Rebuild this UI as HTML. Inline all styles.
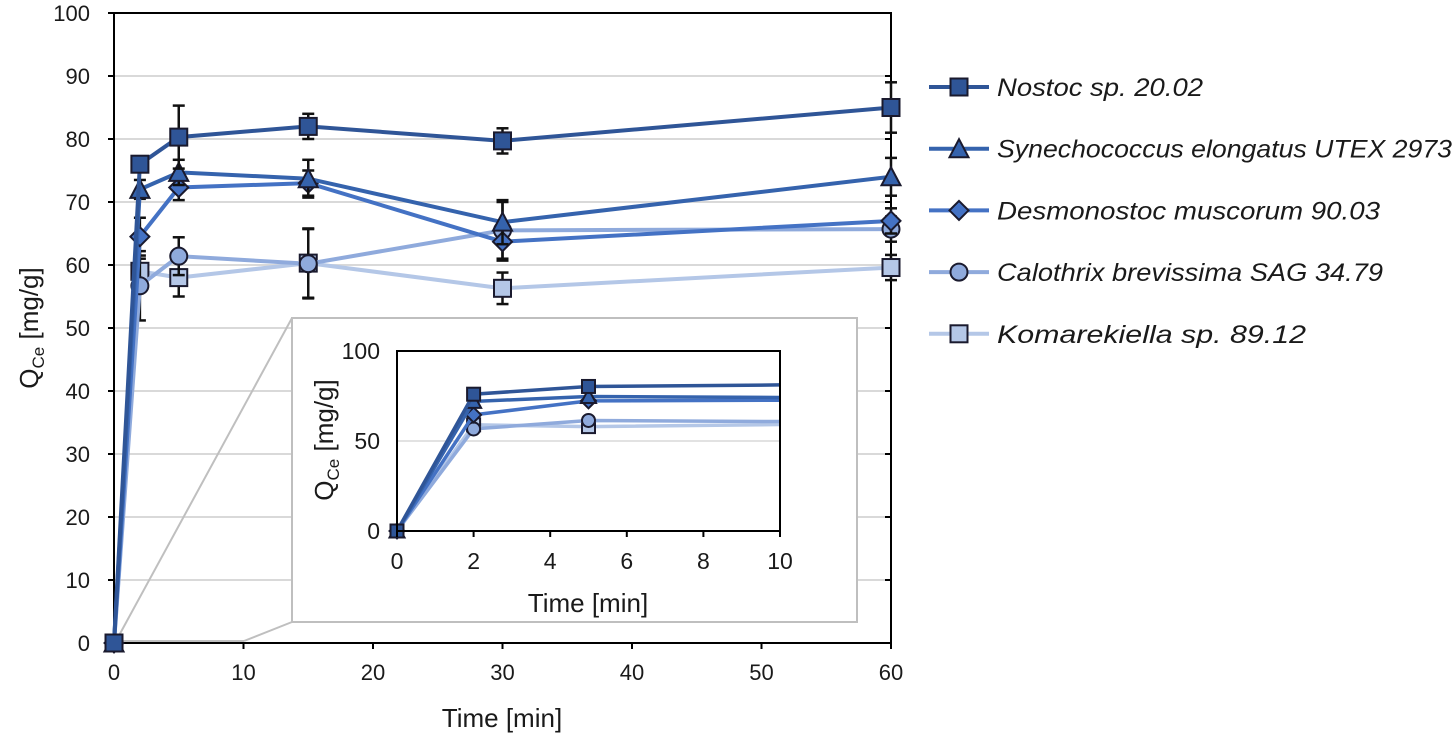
<!DOCTYPE html>
<html><head><meta charset="utf-8"><style>
body{margin:0;background:#fff;}
svg text{font-family:"Liberation Sans",sans-serif;fill:#1a1a1a;}
</style></head><body>
<svg id="chart" width="1456" height="739" xmlns="http://www.w3.org/2000/svg"></svg>
<script>
const times=[0,2,5,15,30,60];
const seriesNames=["Nostoc sp. 20.02","Synechococcus elongatus UTEX 2973","Desmonostoc muscorum 90.03","Calothrix brevissima SAG 34.79","Komarekiella sp. 89.12"];
const nostoc=[0,76,80.3,82,79.7,85];
const synecho=[0,72,74.7,73.7,66.8,74];
const desmo=[0,64.5,72.3,73,63.7,67];
const calo=[0,56.7,61.4,60.2,65.5,65.7];
const koma=[0,59,58,60.3,56.3,59.6];
const nostocErr=[0,1,5,2,2,4];
const synechoErr=[0,1.5,2,3,3.5,3];
const desmoErr=[0,3,2,2,3,2];
const caloErr=[0,5.5,3,5.5,4.5,2];
const komaErr=[0,2,3,5.5,2.5,2];
const xTicks=[0,10,20,30,40,50,60];
const yTicks=[0,10,20,30,40,50,60,70,80,90,100];
const insetXTicks=[0,2,4,6,8,10];
const insetYTicks=[0,50,100];

const colors=["#2f5597","#3563ad","#4472c4","#8faadc","#b4c7e7"];
const markers=["square","triangle","diamond","circle","square"];
const legendWidths=[206,455,383,386,309];
const vals=[nostoc,synecho,desmo,calo,koma];
const errs=[nostocErr,synechoErr,desmoErr,caloErr,komaErr];
const NS="http://www.w3.org/2000/svg";
const svg=document.getElementById('chart');
function mk(tag,attrs,parent){const e=document.createElementNS(NS,tag);for(const k in attrs)e.setAttribute(k,attrs[k]);(parent||svg).appendChild(e);return e;}

const X=v=>114+v/60*777, Y=v=>643-v*6.3;
const IX=v=>397+v/10*383, IY=v=>531-v*1.8;

yTicks.forEach(t=>{if(t>0&&t<100){const g=mk('line',{x1:114,x2:891,y1:Y(t),y2:Y(t),stroke:'#d9d9d9','stroke-width':2});

}});
const ax=mk('rect',{x:114,y:13,width:777,height:630,fill:'none',stroke:'#000','stroke-width':2});


yTicks.forEach(t=>{mk('line',{x1:108,x2:114,y1:Y(t),y2:Y(t),stroke:'#000','stroke-width':2});mk('line',{x1:891,x2:885,y1:Y(t),y2:Y(t),stroke:'#000','stroke-width':2});
const tx=mk('text',{x:90,y:Y(t)+8,'text-anchor':'end','font-size':22});tx.textContent=t;

});
xTicks.forEach(t=>{mk('line',{x1:X(t),x2:X(t),y1:643,y2:649,stroke:'#000','stroke-width':2});
const tx=mk('text',{x:X(t),y:680,'text-anchor':'middle','font-size':22});tx.textContent=t;

});
const xt=mk('text',{x:502,y:727,'text-anchor':'middle','font-size':26});xt.textContent='Time [min]';


const yt=mk('text',{transform:'translate(38,328) rotate(-90)','text-anchor':'middle','font-size':26});
yt.innerHTML='Q<tspan font-size="17" dy="6">Ce</tspan><tspan dy="-6"> [mg/g]</tspan>';



function marker(type,cx,cy,s,fill,parent,name){
 let e;
 if(type==='square')e=mk('rect',{x:cx-s,y:cy-s,width:2*s,height:2*s,fill,stroke:'#1a1a2e','stroke-width':2},parent);
 else if(type==='circle')e=mk('circle',{cx,cy,r:s,fill,stroke:'#1a1a2e','stroke-width':2},parent);
 else if(type==='triangle')e=mk('polygon',{points:`${cx},${cy-s-1} ${cx-s-1},${cy+s} ${cx+s+1},${cy+s}`,fill,stroke:'#1a1a2e','stroke-width':2},parent);
 else e=mk('polygon',{points:`${cx},${cy-s-1} ${cx+s+1},${cy} ${cx},${cy+s+1} ${cx-s-1},${cy}`,fill,stroke:'#1a1a2e','stroke-width':2},parent);
 
 
 return e;
}
mk('line',{x1:116,y1:641,x2:292,y2:318,stroke:'#bfbfbf','stroke-width':2});
mk('line',{x1:116,y1:641,x2:244,y2:641,stroke:'#bfbfbf','stroke-width':2});
mk('line',{x1:244,y1:641,x2:292,y2:622,stroke:'#bfbfbf','stroke-width':2});

for(let s=4;s>=0;s--){
 const g=mk('g',{});
 
 
 times.forEach((t,i)=>{if(errs[s][i]>0){const x=X(t),y1=Y(vals[s][i]+errs[s][i]),y2=Y(vals[s][i]-errs[s][i]);
  mk('line',{x1:x,x2:x,y1,y2,stroke:'#111','stroke-width':2.5},g);
  mk('line',{x1:x-6,x2:x+6,y1,y2:y1,stroke:'#111','stroke-width':2.5},g);
  mk('line',{x1:x-6,x2:x+6,y1:y2,y2:y2,stroke:'#111','stroke-width':2.5},g);}});
 const p=mk('polyline',{points:times.map((t,i)=>X(t)+','+Y(vals[s][i])).join(' '),fill:'none',stroke:colors[s],'stroke-width':4},g);
 
 
 times.forEach((t,i)=>marker(markers[s],X(t),Y(vals[s][i]),8.5,colors[s],g,'data-point'));
}

const inset=mk('rect',{x:292,y:318,width:565,height:304,fill:'#fff',stroke:'#bfbfbf','stroke-width':2});


mk('line',{x1:397,x2:780,y1:IY(50),y2:IY(50),stroke:'#d9d9d9','stroke-width':1.5});
mk('clipPath',{id:'ic'}).appendChild(document.createElementNS(NS,'rect'));
const cr=svg.querySelector('#ic rect');cr.setAttribute('x',385);cr.setAttribute('y',345);cr.setAttribute('width',395);cr.setAttribute('height',200);
const ig=mk('g',{'clip-path':'url(#ic)'});


for(let s=4;s>=0;s--){
 mk('polyline',{points:times.map((t,i)=>IX(t)+','+IY(vals[s][i])).join(' '),fill:'none',stroke:colors[s],'stroke-width':3.5},ig);
 times.forEach((t,i)=>{if(t<=5)marker(markers[s],IX(t),IY(vals[s][i]),6.5,colors[s],ig,'inset-point');});
}
const ib=mk('rect',{x:397,y:351,width:383,height:180,fill:'none',stroke:'#000','stroke-width':2});


insetYTicks.forEach(t=>{const tx=mk('text',{x:380,y:IY(t)+8,'text-anchor':'end','font-size':23});tx.textContent=t;

});
insetXTicks.forEach(t=>{mk('line',{x1:IX(t),x2:IX(t),y1:531,y2:537,stroke:'#000','stroke-width':2});
const tx=mk('text',{x:IX(t),y:569,'text-anchor':'middle','font-size':23});tx.textContent=t;

});
const ixt=mk('text',{x:588,y:612,'text-anchor':'middle','font-size':26});ixt.textContent='Time [min]';


const iyt=mk('text',{transform:'translate(333,440) rotate(-90)','text-anchor':'middle','font-size':26});
iyt.innerHTML='Q<tspan font-size="17" dy="6">Ce</tspan><tspan dy="-6"> [mg/g]</tspan>';



seriesNames.forEach((n,s)=>{
 const y=87+s*61.7;
 const g=mk('g',{});
 
 
 mk('line',{x1:929,x2:989,y1:y,y2:y,stroke:colors[s],'stroke-width':4},g);
 marker(markers[s],959,y,8.5,colors[s],g,'legend-marker');
 const t=mk('text',{x:997,y:y+9,'font-size':25,'font-style':'italic',textLength:legendWidths[s],lengthAdjust:'spacingAndGlyphs'},g);t.textContent=n;
});
</script>
</body></html>
